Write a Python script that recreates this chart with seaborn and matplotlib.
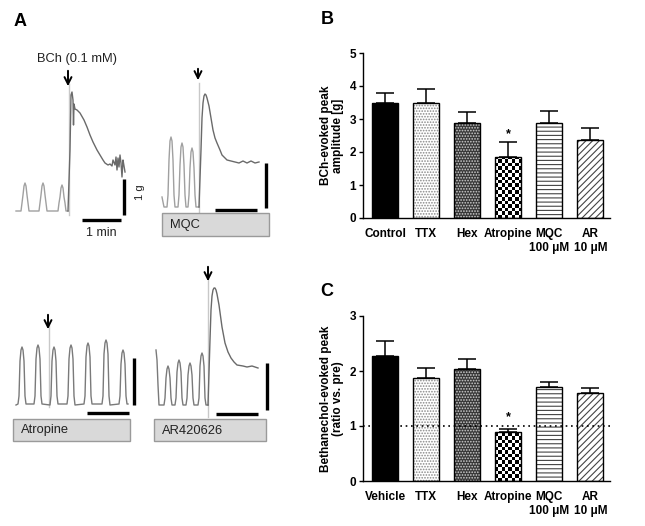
import numpy as np
import pandas as pd
import matplotlib
matplotlib.use('Agg')
import matplotlib.pyplot as plt
from matplotlib.patches import Rectangle
import seaborn as sns

# ---- bar data ----
b_labels = ['Control', 'TTX', 'Hex', 'Atropine', 'MQC\n100 \u03bcM', 'AR\n10 \u03bcM']
b_means = [3.50, 3.47, 2.88, 1.85, 2.87, 2.35]
b_sem = [0.30, 0.45, 0.32, 0.45, 0.36, 0.38]

c_labels = ['Vehicle', 'TTX', 'Hex', 'Atropine', 'MQC\n100 \u03bcM', 'AR\n10 \u03bcM']
c_means = [2.28, 1.87, 2.03, 0.90, 1.71, 1.60]
c_sem = [0.26, 0.19, 0.19, 0.04, 0.09, 0.10]

# ---- traces of panel A (pixel coords) ----
t1_pre_x = [16, 21, 22, 23, 24, 25, 26, 27, 28, 29,
            39, 40, 41, 42, 43, 44, 45, 46, 47,
            58, 59, 60, 61, 62, 63, 64, 65, 66, 68]
t1_pre_y = [211, 211, 203, 195, 186, 183, 186, 195, 203, 211,
            211, 203, 195, 186, 183, 186, 195, 203, 211,
            211, 203, 197, 188, 185, 188, 197, 203, 211, 211]
t1_post_x = [68, 70, 71, 72, 73, 73.5, 74, 75, 77, 80, 84, 87, 90, 93, 97, 100, 103, 105, 108,
             110, 112, 113, 115, 116, 117, 118, 119, 120, 121, 122, 123, 124, 125]
t1_post_y = [211, 150, 95, 92, 100, 125, 104, 109, 110, 113, 120, 127, 135, 142, 150, 155, 160,
             163, 165, 164, 166, 160, 165, 157, 170, 158, 167, 155, 163, 177, 160, 166, 172]

t2_pre_x = [162, 164, 167, 168, 169, 170, 171, 172, 173, 174, 175,
            178, 179, 180, 181, 182, 183, 184, 185, 186,
            188, 189, 190, 191, 192, 193, 194, 195, 196, 199]
t2_pre_y = [197, 207, 207, 195, 160, 141, 137, 141, 160, 195, 207,
            207, 195, 165, 147, 143, 147, 165, 195, 207,
            207, 195, 168, 152, 148, 152, 168, 195, 207, 207]
t2_post_x = [199, 201, 202, 203, 204, 205, 206, 207, 209, 211, 213, 215, 217, 220, 222, 225,
             227, 231, 235, 239, 243, 247, 251, 255, 259]
t2_post_y = [207, 150, 118, 103, 96, 94, 95, 98, 106, 118, 130, 138, 143, 150, 155, 158,
             160, 161, 162, 163, 161, 163, 161, 163, 162]

t3_x = [16, 18, 19, 20, 21, 22, 23, 24, 25, 26,
        34, 35, 36, 37, 38, 39, 40, 41, 42,
        50, 51, 52, 53, 54, 55, 56, 57, 58,
        67, 68, 69, 70, 71, 72, 73, 74, 75,
        84, 85, 86, 87, 88, 89, 90, 91, 92,
        102, 103, 104, 105, 106, 107, 108, 109, 110,
        119, 120, 121, 122, 123, 124, 125, 126, 127, 128]
t3_y = [405, 404, 396, 361, 350, 347, 350, 361, 396, 404,
        404, 396, 359, 348, 345, 348, 359, 396, 404,
        405, 396, 361, 350, 347, 350, 361, 396, 404,
        404, 396, 359, 348, 345, 348, 359, 396, 405,
        404, 396, 357, 346, 343, 346, 357, 396, 404,
        404, 396, 354, 343, 340, 343, 354, 396, 405,
        404, 396, 364, 353, 350, 353, 364, 396, 404, 404]

t4_pre_x = [156, 157, 158, 159,
            164, 165, 166, 167, 168, 169, 170, 171, 172,
            175, 176, 177, 178, 179, 180, 181, 182, 183,
            186, 187, 188, 189, 190, 191, 192, 193, 194,
            198, 199, 200, 201, 202, 203, 204, 205, 206, 208]
t4_pre_y = [350, 360, 385, 405,
            405, 398, 378, 369, 366, 369, 378, 398, 405,
            405, 398, 372, 363, 360, 363, 372, 398, 405,
            405, 398, 375, 366, 363, 366, 375, 398, 405,
            405, 398, 366, 356, 353, 356, 366, 398, 405, 405]
t4_post_x = [208, 210, 211, 212, 213, 214, 215, 216, 217, 219, 222, 225, 228, 231, 234, 237,
             243, 247, 252, 258]
t4_post_y = [405, 340, 310, 296, 290, 288, 288, 290, 294, 305, 327, 343, 352, 358, 362, 365,
             366, 367, 366, 368]

plt.rcParams['font.family'] = ['Liberation Sans Narrow', 'Liberation Sans', 'DejaVu Sans']
plt.rcParams['hatch.linewidth'] = 0.8

fig = plt.figure(figsize=(6.45, 5.26), dpi=100)

W, H = 645, 526


def px_axes(l, r, top, bot):
    return fig.add_axes([l / W, 1 - bot / H, (r - l) / W, (bot - top) / H])


# bar styles: (face, hatch, hatch colour)
styles = [('black', '', 'black'),
          ('white', '......', '#888888'),
          ('#383838', '......', '#d0d0d0'),
          ('white', 'checker', 'black'),
          ('white', '----', '#444444'),
          ('white', '/////', '#444444')]


def bar_panel(ax, labels, means, sem, ymax, ylabel, star_y):
    df = pd.DataFrame({'group': labels, 'value': means})
    sns.barplot(data=df, x='group', y='value', color='white', width=0.64, ax=ax,
                errorbar=None, saturation=1)
    sq = 3.4 * ymax / 165.0  # checker square height in data units
    for p, (fc, hatch, hc) in zip(ax.patches, styles):
        x0, y0 = p.get_xy()
        w, h = p.get_width(), p.get_height()
        p.set_facecolor(fc)
        p.set_linewidth(0)
        if hatch == 'checker':
            board = np.indices((40, 8)).sum(axis=0) % 2
            im = ax.imshow(board, cmap='gray', interpolation='nearest', aspect='auto',
                           extent=(x0, x0 + w, 0, 40 * sq), zorder=p.get_zorder())
            im.set_clip_path(p)
        elif hatch:
            p.set_hatch(hatch)
            p.set_edgecolor(hc)
        ax.add_patch(Rectangle((x0, y0), w, h, fill=False, ec='black', lw=1, zorder=3))
    ax.errorbar(range(len(means)), means, yerr=[np.zeros(len(means)), sem], fmt='none',
                ecolor='black', elinewidth=1.1, capsize=6.5, capthick=1.1, zorder=4)
    ax.text(3, star_y, '*', ha='center', va='center', fontsize=9, fontweight='bold')
    ax.set_xlim(-0.54, 5.48)
    ax.set_ylim(0, ymax)
    ax.set_yticks(range(0, ymax + 1))
    ax.set_xlabel('')
    ax.set_ylabel(ylabel, fontsize=8.5, fontweight='bold', linespacing=1.1)
    ax.yaxis.set_label_coords(-0.075, 0.5)
    sns.despine(ax=ax)
    ax.tick_params(axis='y', direction='out', length=3, width=1, labelsize=8.5, pad=2)
    ax.tick_params(axis='x', length=0, labelsize=8.5, pad=7)
    for t in ax.get_xticklabels() + ax.get_yticklabels():
        t.set_fontweight('bold')
    for t in ax.get_xticklabels():
        t.set_linespacing(1.25)
    for s in ax.spines.values():
        s.set_linewidth(1)


axB = px_axes(363, 610, 53, 218)
bar_panel(axB, b_labels, b_means, b_sem, 5, 'BCh-evoked peak\namplitude [g]', 2.55)

axC = px_axes(363, 610, 316, 481)
bar_panel(axC, c_labels, c_means, c_sem, 3, 'Bethanechol-evoked peak\n(ratio vs. pre)', 1.16)
axC.axhline(1, color='black', lw=1.2, ls=(0, (1, 2.2)), zorder=5)

# ---- panel A overlay in pixel coordinates ----
axA = fig.add_axes([0, 0, 1, 1])
axA.patch.set_alpha(0)

light, dark, mark = '#a0a0a0', '#6a6a6a', '#c8c8c8'
sns.lineplot(x=t1_pre_x, y=t1_pre_y, sort=False, color=light, lw=1, ax=axA)
sns.lineplot(x=t1_post_x, y=t1_post_y, sort=False, color=dark, lw=1, ax=axA)
sns.lineplot(x=t2_pre_x, y=t2_pre_y, sort=False, color=light, lw=1, ax=axA)
sns.lineplot(x=t2_post_x, y=t2_post_y, sort=False, color=dark, lw=1, ax=axA)
sns.lineplot(x=t3_x, y=t3_y, sort=False, color='#7a7a7a', lw=1, ax=axA)
sns.lineplot(x=t4_pre_x, y=t4_pre_y, sort=False, color='#7a7a7a', lw=1, ax=axA)
sns.lineplot(x=t4_post_x, y=t4_post_y, sort=False, color=dark, lw=1, ax=axA)
axA.set_xlim(0, W)
axA.set_ylim(H, 0)
axA.axis('off')

# stimulus markers
for x, y0, y1 in [(69, 84, 215), (199, 83, 212), (49, 325, 407), (208, 273, 417)]:
    axA.plot([x, x], [y0, y1], color=mark, lw=1, zorder=1)

# arrows
for x, y0, y1 in [(68, 68, 89), (198, 66, 83), (48, 312, 332), (208, 264, 284)]:
    axA.annotate('', xy=(x, y1), xytext=(x, y0),
                 arrowprops=dict(arrowstyle='->,head_width=0.25,head_length=0.5', lw=1.4, color='black'))

# scale bars
for x, y0, y1 in [(124, 179, 215), (266, 163, 208), (134, 358, 405), (267, 363, 410)]:
    axA.plot([x, x], [y0, y1], color='black', lw=2.4, solid_capstyle='butt')
for x0, x1, y in [(82, 121, 220), (215, 257, 210), (87, 129, 413), (216, 258, 414)]:
    axA.plot([x0, x1], [y, y], color='black', lw=2.4, solid_capstyle='butt')

fa = ['Liberation Sans', 'DejaVu Sans']
axA.text(77, 59, 'BCh (0.1 mM)', ha='center', va='center', fontsize=9.3, family=fa, color='#222222')
axA.text(101, 233, '1 min', ha='center', va='center', fontsize=9, family=fa, color='#222222')
axA.text(140, 192, '1 g', ha='center', va='center', fontsize=8, family=fa, rotation=90, color='#222222')

for x0, x1, y0, y1, lab in [(162, 269, 213, 236, 'MQC'), (13, 130, 419, 441, 'Atropine'),
                            (154, 266, 419, 441, 'AR420626')]:
    axA.add_patch(Rectangle((x0, y0), x1 - x0, y1 - y0, facecolor='#d9d9d9', edgecolor='#9a9a9a', lw=1))
    axA.text(x0 + 8, (y0 + y1) / 2 + 0.5, lab, ha='left', va='center', fontsize=9.3, family=fa, color='#222222')

for x, y, lab in [(20, 21, 'A'), (327, 20, 'B'), (327, 292, 'C')]:
    axA.text(x, y, lab, ha='center', va='center', fontsize=13, fontweight='bold', family=fa)

fig.savefig('out.png', dpi=100)
